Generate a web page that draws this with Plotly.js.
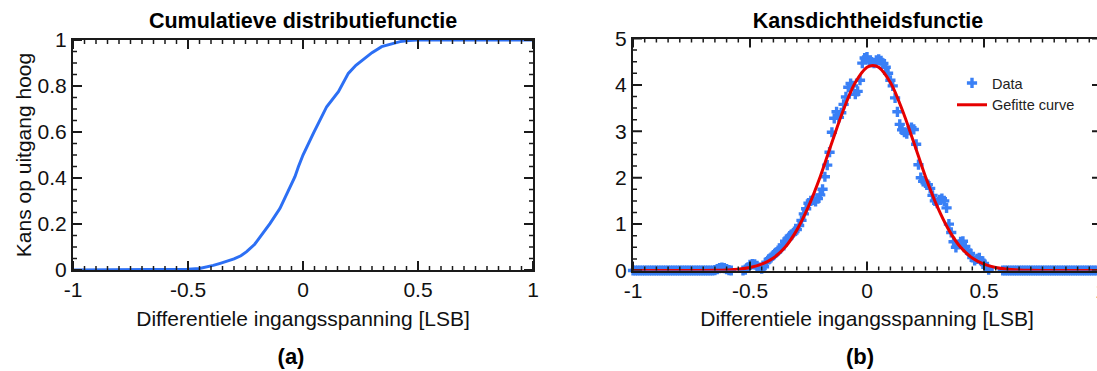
<!DOCTYPE html>
<html>
<head>
<meta charset="utf-8">
<script src="https://cdn.plot.ly/plotly-3.0.1.min.js"></script>
<style>
html, body { margin: 0; padding: 0; overflow: hidden; background: #fff; width: 1097px; height: 371px; position: relative; }
#chartA { position: absolute; left: 0; top: 0; width: 560px; height: 371px; }
#chartB { position: absolute; left: 560px; top: 0; width: 560px; height: 371px; }
.txt { position: absolute; white-space: nowrap; line-height: 1; font-family: 'Liberation Sans', Arial, Helvetica, sans-serif; color: #000; transform: translate(-50%, -50%); }
.ttl { font-weight: bold; font-size: 21.5px; }
.lbl { font-weight: bold; font-size: 22px; }
.axt { font-size: 21px; color: #111; }
.ytl { font-size: 21px; color: #111; transform: translate(-50%, -50%) rotate(-90deg); }
</style>
</head>
<body>
<div id="chartA"></div>
<div id="chartB"></div>
<div class="txt ttl" id="tA" style="left:303px; top:22px;"></div>
<div class="txt ttl" id="tB" style="left:868px; top:22px;"></div>
<div class="txt axt" id="xA" style="left:303px; top:318px;"></div>
<div class="txt axt" id="xB" style="left:867px; top:318px;"></div>
<div class="txt lbl" id="lA" style="left:291px; top:357px;"></div>
<div class="txt lbl" id="lB" style="left:860px; top:357px;"></div>
<div class="txt ytl" id="yA" style="left:23px; top:155px;"></div>
<script>
// ---- Data ----
const cdfX = [-1, -0.8, -0.6, -0.5, -0.45, -0.42, -0.39, -0.36, -0.33, -0.3, -0.27, -0.245, -0.21, -0.18, -0.143, -0.1, -0.071, -0.035, -0.02, 0, 0.045, 0.088, 0.103, 0.154, 0.197, 0.23, 0.262, 0.3, 0.342, 0.38, 0.422, 0.46, 0.494, 0.7, 1];
const cdfY = [0, 0, 0, 0.003, 0.007, 0.012, 0.02, 0.029, 0.038, 0.048, 0.062, 0.08, 0.112, 0.152, 0.203, 0.268, 0.333, 0.406, 0.449, 0.5, 0.594, 0.68, 0.71, 0.775, 0.855, 0.89, 0.916, 0.945, 0.971, 0.982, 0.993, 0.998, 1, 1, 1];

const pdfX = [-1.00,-0.99,-0.98,-0.97,-0.96,-0.95,-0.94,-0.93,-0.92,-0.91,-0.90,-0.89,-0.88,-0.87,-0.86,-0.85,-0.84,-0.83,-0.82,-0.81,
-0.80,-0.79,-0.78,-0.77,-0.76,-0.75,-0.74,-0.73,-0.72,-0.71,-0.70,-0.69,-0.68,-0.67,-0.66,-0.65,-0.64,-0.63,-0.62,-0.61,
-0.60,-0.59,-0.58,-0.57,-0.56,-0.55,-0.54,-0.53,-0.52,-0.51,-0.50,-0.49,-0.48,-0.47,-0.46,-0.45,-0.44,-0.43,-0.42,-0.41,
-0.40,-0.39,-0.38,-0.37,-0.36,-0.35,-0.34,-0.33,-0.32,-0.31,-0.30,-0.29,-0.28,-0.27,-0.26,-0.25,-0.24,-0.23,-0.22,-0.21,
-0.20,-0.19,-0.18,-0.17,-0.16,-0.15,-0.14,-0.13,-0.12,-0.11,-0.10,-0.09,-0.08,-0.07,-0.06,-0.05,-0.04,-0.03,-0.02,-0.01,
0.00,0.01,0.02,0.03,0.04,0.05,0.06,0.07,0.08,0.09,0.10,0.11,0.12,0.13,0.14,0.15,0.16,0.17,0.18,0.19,
0.20,0.21,0.22,0.23,0.24,0.25,0.26,0.27,0.28,0.29,0.30,0.31,0.32,0.33,0.34,0.35,0.36,0.37,0.38,0.39,
0.40,0.41,0.42,0.43,0.44,0.45,0.46,0.47,0.48,0.49,0.50,0.51,0.52,0.53,0.54,0.55,0.56,0.57,0.58,0.59,
0.60,0.61,0.62,0.63,0.64,0.65,0.66,0.67,0.68,0.69,0.70,0.71,0.72,0.73,0.74,0.75,0.76,0.77,0.78,0.79,
0.80,0.81,0.82,0.83,0.84,0.85,0.86,0.87,0.88,0.89,0.90,0.91,0.92,0.93,0.94,0.95,0.96,0.97,0.98,0.99,1.00];
const pdfY = [0,0,0,0,0,0,0,0,0,0,0,0,0,0,0,0,0,0,0,0,
0,0,0,0,0,0,0,0,0,0,0,0,0,0,0,0.01,0.03,0.05,0.06,0.05,
0.03,0.01,0,-0.01,-0.01,-0.01,-0.01,0,0.02,0.06,0.12,0.14,0.13,0.10,0.06,0.04,0.08,0.18,0.24,0.28,
0.33,0.38,0.43,0.47,0.55,0.63,0.68,0.74,0.78,0.84,0.88,0.97,1.08,1.22,1.33,1.45,1.50,1.52,1.49,1.55,
1.63,1.75,2.02,2.27,2.55,2.98,3.28,3.42,3.30,3.40,3.58,3.74,3.95,4.03,3.98,3.80,3.86,4.10,4.47,4.58,
4.60,4.52,4.49,4.47,4.53,4.55,4.52,4.46,4.38,4.25,4.10,3.98,3.72,3.42,3.15,3.03,2.98,2.95,3.03,3.08,
3.04,2.72,2.28,2.00,1.92,1.89,1.85,1.77,1.62,1.50,1.45,1.52,1.55,1.50,1.35,1.00,0.82,0.62,0.50,0.56,
0.62,0.63,0.52,0.43,0.37,0.28,0.22,0.25,0.27,0.20,0.15,0.07,0.02,-0.01,-0.02,-0.02,-0.01,-0.01,0,0,
0,0,0,0,0,0,0,0,0,0,0,0,0,0,0,0,0,0,0,0,
0,0,0,0,0,0,0,0,0,0,0,0,0,0,0,0,0,0,0,0,0];

const fitX = [-1, -0.95, -0.9, -0.85, -0.8, -0.75, -0.7, -0.65, -0.6, -0.55, -0.5, -0.45, -0.4, -0.35, -0.3, -0.25, -0.2, -0.15, -0.1, -0.05, 0, 0.025, 0.05, 0.1, 0.15, 0.2, 0.25, 0.3, 0.35, 0.4, 0.45, 0.5, 0.55, 0.6, 0.65, 0.7, 0.75, 0.8, 0.85, 0.9, 0.95, 1];
const fitY = [0, 0, 0, 0, 0, 0, 0.001, 0.004, 0.011, 0.027, 0.063, 0.136, 0.27, 0.50, 0.87, 1.38, 2.02, 2.76, 3.47, 4.05, 4.38, 4.42, 4.38, 4.05, 3.47, 2.76, 2.02, 1.38, 0.87, 0.50, 0.27, 0.136, 0.063, 0.027, 0.011, 0.004, 0.001, 0, 0, 0, 0, 0];

const xTickVals = [-1, -0.5, 0, 0.5, 1];
const xTickText = ['-1', '-0.5', '0', '0.5', '1'];
const y1TickVals = [0, 0.2, 0.4, 0.6, 0.8, 1];
const y1TickText = ['0', '0.2', '0.4', '0.6', '0.8', '1'];
const y2TickVals = [0, 1, 2, 3, 4, 5];
const y2TickText = ['0', '1', '2', '3', '4', '5'];

const titleA = 'Cumulatieve distributiefunctie';
const titleB = 'Kansdichtheidsfunctie';
const xTitle = 'Differentiele ingangsspanning [LSB]';
const yTitleA = 'Kans op uitgang hoog';
const legendData = 'Data';
const legendFit = 'Gefitte curve';
const labelA = '(a)';
const labelB = '(b)';

document.getElementById('tA').textContent = titleA;
document.getElementById('tB').textContent = titleB;
document.getElementById('xA').textContent = xTitle;
document.getElementById('xB').textContent = xTitle;
document.getElementById('lA').textContent = labelA;
document.getElementById('lB').textContent = labelB;
document.getElementById('yA').textContent = yTitleA;

// ---- Layout helpers ----
const W = 560, H = 371;
const FONT = 'Liberation Sans, Arial, Helvetica, sans-serif';
const INK = '#1a1a1a';
const MAJOR_LEN = 9, MINOR_LEN = 4;

function axisBase(extra) {
  return Object.assign({
    showline: true, linewidth: 2, linecolor: INK, mirror: true,
    ticks: '', showgrid: false, zeroline: false,
    tickfont: {family: FONT, size: 21, color: '#111'}
  }, extra);
}

// tick values between lo and hi at a given step, excluding the labelled ones
function minorVals(lo, hi, step, majors) {
  const out = [];
  const n = Math.round((hi - lo) / step);
  for (let k = 0; k <= n; k++) {
    const v = +(lo + k * step).toFixed(6);
    if (!majors.some(m => Math.abs(m - v) < 1e-9)) out.push(v);
  }
  return out;
}
// inward tick marks on all four sides, placed through the axes' own scales
function tickShapes(xMaj, xMin, yMaj, yMin) {
  const s = [];
  const add = (vals, len, w) => {
    vals.x.forEach(v => {
      s.push({type: 'line', xref: 'x', yref: 'y domain', x0: v, x1: v, ysizemode: 'pixel', yanchor: 0, y0: 0, y1: len, line: {color: INK, width: w}});
      s.push({type: 'line', xref: 'x', yref: 'y domain', x0: v, x1: v, ysizemode: 'pixel', yanchor: 1, y0: 0, y1: -len, line: {color: INK, width: w}});
    });
    vals.y.forEach(v => {
      s.push({type: 'line', xref: 'x domain', yref: 'y', y0: v, y1: v, xsizemode: 'pixel', xanchor: 0, x0: 0, x1: len, line: {color: INK, width: w}});
      s.push({type: 'line', xref: 'x domain', yref: 'y', y0: v, y1: v, xsizemode: 'pixel', xanchor: 1, x0: 0, x1: -len, line: {color: INK, width: w}});
    });
  };
  add({x: xMaj, y: yMaj}, MAJOR_LEN, 2);
  add({x: xMin, y: yMin}, MINOR_LEN, 1.5);
  return s;
}

// ---- (a) cumulative distribution ----
const layoutA = {
  width: W, height: H, margin: {l: 0, r: 0, t: 0, b: 0}, showlegend: false,
  xaxis: axisBase({domain: [73 / W, 533 / W], range: [-1, 1], anchor: 'y',
    tickmode: 'array', tickvals: xTickVals, ticktext: xTickText}),
  yaxis: axisBase({domain: [1 - 270 / H, 1 - 40 / H], range: [0, 1], anchor: 'x',
    tickmode: 'array', tickvals: y1TickVals, ticktext: y1TickText}),
  shapes: tickShapes(xTickVals, minorVals(-1, 1, 0.05, xTickVals), y1TickVals, minorVals(0, 1, 0.05, y1TickVals))
};
Plotly.newPlot('chartA', [
  {x: cdfX, y: cdfY, mode: 'lines', line: {color: '#2c6ff4', width: 3}}
], layoutA, {staticPlot: true});

// ---- (b) probability density ----
const layoutB = {
  width: W, height: H, margin: {l: 0, r: 0, t: 0, b: 0}, showlegend: true,
  legend: {x: 392 / W, y: 1 - 67 / H, xanchor: 'left', yanchor: 'top',
           bgcolor: 'rgba(0,0,0,0)', borderwidth: 0, itemwidth: 30,
           font: {family: FONT, size: 14.5, color: '#222'}},
  xaxis: axisBase({domain: [73 / W, 541 / W], range: [-1, 1], anchor: 'y',
    tickmode: 'array', tickvals: xTickVals, ticktext: xTickText}),
  yaxis: axisBase({domain: [1 - 270.5 / H, 1 - 38.5 / H], range: [0, 5], anchor: 'x',
    tickmode: 'array', tickvals: y2TickVals, ticktext: y2TickText}),
  shapes: tickShapes(xTickVals, minorVals(-1, 1, 0.05, xTickVals), y2TickVals, minorVals(0, 5, 0.25, y2TickVals))
};
Plotly.newPlot('chartB', [
  {x: pdfX, y: pdfY, mode: 'markers', name: legendData, cliponaxis: false,
   marker: {symbol: 'cross', size: 8.5, color: '#3a80f6', line: {width: 0}}},
  {x: fitX, y: fitY, mode: 'lines', name: legendFit,
   line: {color: '#e60000', width: 3, shape: 'spline', smoothing: 1}}
], layoutB, {staticPlot: true});
</script>
</body>
</html>
